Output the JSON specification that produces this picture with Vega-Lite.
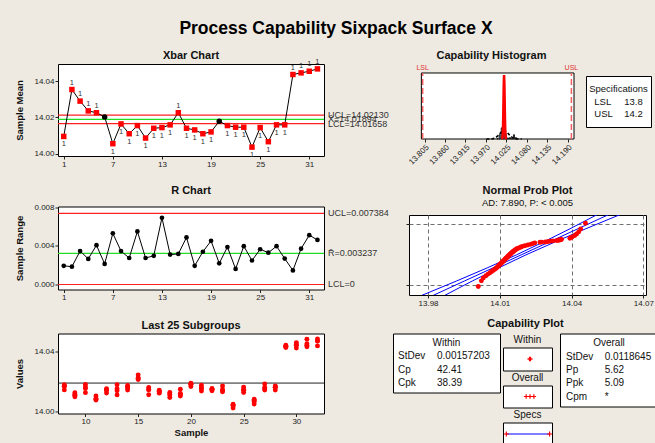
{
  "$schema": "https://vega.github.io/schema/vega-lite/v6.json",
  "background": "#EEEAE1",
  "padding": {"left": 13, "top": 19, "right": 0, "bottom": 0},
  "title": {"text": "Process Capability Sixpack Surface X", "fontSize": 17.5, "fontWeight": "bold", "anchor": "middle", "offset": 12, "color": "#000"},
  "config": {
    "view": {"stroke": "#000", "strokeWidth": 1, "fill": "white"},
    "font": "Liberation Sans",
    "axis": {"domain": false, "grid": false, "labelFontSize": 8, "labelColor": "#222", "labelFont": "Liberation Sans", "tickColor": "#222", "tickSize": 3, "labelPadding": 1, "labelFlush": false, "labelOverlap": false, "titleFontSize": 9.5, "titleFontWeight": "bold", "titleColor": "#111", "titleFont": "Liberation Sans"},
    "title": {"fontSize": 11, "fontWeight": "bold", "font": "Liberation Sans", "color": "#111", "offset": 4, "anchor": "middle"},
    "text": {"font": "Liberation Sans", "color": "#111"}
  },
  "datasets": {
    "sub": [
      {"s":1,"m":14.0095,"r":0.00194,"st":"o","t":"1"},
      {"s":2,"m":14.0354,"r":0.00185,"st":"o","t":"1"},
      {"s":3,"m":14.0290,"r":0.00347,"st":"o","t":"1"},
      {"s":4,"m":14.0236,"r":0.00266,"st":"o","t":"1"},
      {"s":5,"m":14.0226,"r":0.00408,"st":"o","t":"1"},
      {"s":6,"m":14.0203,"r":0.00214,"st":"i","t":""},
      {"s":7,"m":14.0055,"r":0.00531,"st":"o","t":"1"},
      {"s":8,"m":14.0164,"r":0.00347,"st":"o","t":"1"},
      {"s":9,"m":14.0110,"r":0.00275,"st":"o","t":"1"},
      {"s":10,"m":14.0155,"r":0.00551,"st":"o","t":"1"},
      {"s":11,"m":14.0086,"r":0.00275,"st":"o","t":"1"},
      {"s":12,"m":14.0140,"r":0.00298,"st":"o","t":"1"},
      {"s":13,"m":14.0144,"r":0.00693,"st":"o","t":"1"},
      {"s":14,"m":14.0159,"r":0.00311,"st":"o","t":"1"},
      {"s":15,"m":14.0226,"r":0.00317,"st":"o","t":"1"},
      {"s":16,"m":14.0140,"r":0.00489,"st":"o","t":"1"},
      {"s":17,"m":14.0131,"r":0.00194,"st":"o","t":"1"},
      {"s":18,"m":14.0110,"r":0.00340,"st":"o","t":"1"},
      {"s":19,"m":14.0120,"r":0.00453,"st":"o","t":"1"},
      {"s":20,"m":14.0179,"r":0.00220,"st":"i","t":""},
      {"s":21,"m":14.0155,"r":0.00389,"st":"o","t":"1"},
      {"s":22,"m":14.0146,"r":0.00162,"st":"o","t":"1"},
      {"s":23,"m":14.0146,"r":0.00398,"st":"o","t":"1"},
      {"s":24,"m":14.0036,"r":0.00249,"st":"o","t":"1"},
      {"s":25,"m":14.0144,"r":0.00366,"st":"o","t":"1"},
      {"s":26,"m":14.0066,"r":0.00330,"st":"o","t":"1"},
      {"s":27,"m":14.0159,"r":0.00398,"st":"o","t":"1"},
      {"s":28,"m":14.0159,"r":0.00269,"st":"o","t":"1"},
      {"s":29,"m":14.0437,"r":0.00146,"st":"o","t":"1"},
      {"s":30,"m":14.0446,"r":0.00372,"st":"o","t":"1"},
      {"s":31,"m":14.0455,"r":0.00512,"st":"o","t":"1"},
      {"s":32,"m":14.0468,"r":0.00463,"st":"o","t":"1"}
    ],
    "meas": [
      {"s":1,"v":14.00853},{"s":1,"v":14.00931},{"s":1,"v":14.00969},{"s":1,"v":14.01047},
      {"s":2,"v":14.03438},{"s":2,"v":14.03531},{"s":2,"v":14.03568},{"s":2,"v":14.03623},
      {"s":3,"v":14.02761},{"s":3,"v":14.02831},{"s":3,"v":14.02900},{"s":3,"v":14.03108},
      {"s":4,"v":14.02200},{"s":4,"v":14.02387},{"s":4,"v":14.02387},{"s":4,"v":14.02466},
      {"s":5,"v":14.02056},{"s":5,"v":14.02219},{"s":5,"v":14.02301},{"s":5,"v":14.02464},
      {"s":6,"v":14.01912},{"s":6,"v":14.02019},{"s":6,"v":14.02062},{"s":6,"v":14.02126},
      {"s":7,"v":14.00338},{"s":7,"v":14.00444},{"s":7,"v":14.00550},{"s":7,"v":14.00869},
      {"s":8,"v":14.01432},{"s":8,"v":14.01675},{"s":8,"v":14.01675},{"s":8,"v":14.01779},
      {"s":9,"v":14.00963},{"s":9,"v":14.01073},{"s":9,"v":14.01128},{"s":9,"v":14.01238},
      {"s":10,"v":14.01247},{"s":10,"v":14.01522},{"s":10,"v":14.01633},{"s":10,"v":14.01798},
      {"s":11,"v":14.00750},{"s":11,"v":14.00805},{"s":11,"v":14.00860},{"s":11,"v":14.01025},
      {"s":12,"v":14.01221},{"s":12,"v":14.01430},{"s":12,"v":14.01430},{"s":12,"v":14.01519},
      {"s":13,"v":14.01094},{"s":13,"v":14.01371},{"s":13,"v":14.01509},{"s":13,"v":14.01787},
      {"s":14,"v":14.01419},{"s":14,"v":14.01574},{"s":14,"v":14.01637},{"s":14,"v":14.01730},
      {"s":15,"v":14.02133},{"s":15,"v":14.02197},{"s":15,"v":14.02260},{"s":15,"v":14.02450},
      {"s":16,"v":14.01107},{"s":16,"v":14.01449},{"s":16,"v":14.01449},{"s":16,"v":14.01596},
      {"s":17,"v":14.01213},{"s":17,"v":14.01291},{"s":17,"v":14.01329},{"s":17,"v":14.01407},
      {"s":18,"v":14.00913},{"s":18,"v":14.01083},{"s":18,"v":14.01151},{"s":18,"v":14.01253},
      {"s":19,"v":14.01019},{"s":19,"v":14.01109},{"s":19,"v":14.01200},{"s":19,"v":14.01472},
      {"s":20,"v":14.01658},{"s":20,"v":14.01812},{"s":20,"v":14.01812},{"s":20,"v":14.01878},
      {"s":21,"v":14.01356},{"s":21,"v":14.01511},{"s":21,"v":14.01589},{"s":21,"v":14.01745},
      {"s":22,"v":14.01371},{"s":22,"v":14.01452},{"s":22,"v":14.01484},{"s":22,"v":14.01533},
      {"s":23,"v":14.01301},{"s":23,"v":14.01380},{"s":23,"v":14.01460},{"s":23,"v":14.01699},
      {"s":24,"v":14.00211},{"s":24,"v":14.00385},{"s":24,"v":14.00385},{"s":24,"v":14.00460},
      {"s":25,"v":14.01257},{"s":25,"v":14.01403},{"s":25,"v":14.01477},{"s":25,"v":14.01623},
      {"s":26,"v":14.00479},{"s":26,"v":14.00644},{"s":26,"v":14.00710},{"s":26,"v":14.00809},
      {"s":27,"v":14.01431},{"s":27,"v":14.01510},{"s":27,"v":14.01590},{"s":27,"v":14.01829},
      {"s":28,"v":14.01429},{"s":28,"v":14.01617},{"s":28,"v":14.01617},{"s":28,"v":14.01698},
      {"s":29,"v":14.04297},{"s":29,"v":14.04355},{"s":29,"v":14.04385},{"s":29,"v":14.04443},
      {"s":30,"v":14.04255},{"s":30,"v":14.04441},{"s":30,"v":14.04516},{"s":30,"v":14.04627},
      {"s":31,"v":14.04345},{"s":31,"v":14.04448},{"s":31,"v":14.04550},{"s":31,"v":14.04857},
      {"s":32,"v":14.04402},{"s":32,"v":14.04726},{"s":32,"v":14.04726},{"s":32,"v":14.04865}
    ],
    "pp": [
      {"z":-2.418,"v":14.0010},{"z":-1.988,"v":14.0023},{"z":-1.762,"v":14.0031},{"z":-1.601,"v":14.0042},
      {"z":-1.473,"v":14.0051},{"z":-1.366,"v":14.0059},{"z":-1.272,"v":14.0066},{"z":-1.189,"v":14.0072},
      {"z":-1.113,"v":14.0078},{"z":-1.044,"v":14.0083},{"z":-0.978,"v":14.0087},{"z":-0.917,"v":14.0091},
      {"z":-0.859,"v":14.0094},{"z":-0.803,"v":14.0096},{"z":-0.750,"v":14.0100},{"z":-0.699,"v":14.0103},
      {"z":-0.650,"v":14.0105},{"z":-0.602,"v":14.0108},{"z":-0.556,"v":14.0110},{"z":-0.511,"v":14.0113},
      {"z":-0.467,"v":14.0115},{"z":-0.424,"v":14.0118},{"z":-0.381,"v":14.0120},{"z":-0.340,"v":14.0122},
      {"z":-0.298,"v":14.0124},{"z":-0.258,"v":14.0126},{"z":-0.217,"v":14.0129},{"z":-0.177,"v":14.0131},
      {"z":-0.137,"v":14.0133},{"z":-0.098,"v":14.0135},{"z":-0.059,"v":14.0137},{"z":-0.020,"v":14.0139},
      {"z":0.020,"v":14.0142},{"z":0.059,"v":14.0144},{"z":0.098,"v":14.0146},{"z":0.137,"v":14.0148},
      {"z":0.177,"v":14.0151},{"z":0.217,"v":14.0154},{"z":0.258,"v":14.0156},{"z":0.298,"v":14.0159},
      {"z":0.340,"v":14.0162},{"z":0.381,"v":14.0165},{"z":0.424,"v":14.0168},{"z":0.467,"v":14.0171},
      {"z":0.511,"v":14.0177},{"z":0.556,"v":14.0183},{"z":0.602,"v":14.0189},{"z":0.650,"v":14.0195},
      {"z":0.699,"v":14.0205},{"z":0.750,"v":14.0217},{"z":0.803,"v":14.0228},{"z":0.859,"v":14.0237},
      {"z":0.917,"v":14.0246},{"z":0.960,"v":14.0268},{"z":0.978,"v":14.0275},{"z":0.990,"v":14.0290},
      {"z":1.010,"v":14.0300},{"z":1.044,"v":14.0310},{"z":1.070,"v":14.0322},{"z":1.090,"v":14.0338},
      {"z":1.113,"v":14.0345},{"z":1.140,"v":14.0350},{"z":1.160,"v":14.0355},{"z":1.189,"v":14.0358},
      {"z":1.272,"v":14.0393},{"z":1.366,"v":14.0402},{"z":1.473,"v":14.0413},{"z":1.601,"v":14.0421},
      {"z":1.762,"v":14.0430},{"z":1.988,"v":14.0438},{"z":2.418,"v":14.0458}
    ],
    "band": [
      {"z":-3.1,"lo":13.97736,"fit":13.98216,"hi":13.98696},
      {"z":-2,"lo":13.99191,"fit":13.99521,"hi":13.99851},
      {"z":-1,"lo":14.00468,"fit":14.00708,"hi":14.00948},
      {"z":0,"lo":14.01694,"fit":14.01894,"hi":14.02094},
      {"z":1,"lo":14.0284,"fit":14.0308,"hi":14.0332},
      {"z":2,"lo":14.03937,"fit":14.04267,"hi":14.04597},
      {"z":3.1,"lo":14.05092,"fit":14.05572,"hi":14.06052}
    ],
    "overallCurve": [
      {"x":13.97148,"d":0.011},{"x":13.97741,"d":0.074},{"x":13.98335,"d":0.373},{"x":13.98928,"d":1.476},
      {"x":13.99521,"d":4.55},{"x":14.00114,"d":10.92},{"x":14.00708,"d":20.39},{"x":14.01301,"d":29.67},
      {"x":14.01894,"d":33.62},{"x":14.02487,"d":29.67},{"x":14.0308,"d":20.39},{"x":14.03674,"d":10.92},
      {"x":14.04267,"d":4.55},{"x":14.0486,"d":1.476},{"x":14.05453,"d":0.373},{"x":14.06047,"d":0.074},
      {"x":14.0664,"d":0.011}
    ],
    "withinCurve": [
      {"x":14.01265,"d":0.085},{"x":14.01422,"d":2.82},{"x":14.01501,"d":11.14},{"x":14.0158,"d":34.35},
      {"x":14.01658,"d":82.4},{"x":14.01737,"d":153.9},{"x":14.01815,"d":224.0},{"x":14.01894,"d":253.8},
      {"x":14.01973,"d":224.0},{"x":14.02051,"d":153.9},{"x":14.0213,"d":82.4},{"x":14.02208,"d":34.35},
      {"x":14.02287,"d":11.14},{"x":14.02366,"d":2.82},{"x":14.02523,"d":0.085}
    ]
  },
  "spacing": 9.5,
  "vconcat": [
    {
      "concat": [
        {
          "spacing": 15.5,
          "vconcat": [
            {
              "width": 266, "height": 92,
              "title": {"text": "Xbar Chart", "offset": -3},
              "layer": [
                {
                  "data": {"values": [{"k":"UCL","y":14.0213,"lab":"UCL=14.02130"},{"k":"CL","y":14.01894,"lab":"X̄=14.01894"},{"k":"LCL","y":14.01658,"lab":"LCL=14.01658"}]},
                  "layer": [
                    {"mark": {"type": "rule", "strokeWidth": 1.2},
                     "encoding": {"y": {"field": "y", "type": "quantitative"},
                                  "stroke": {"field": "k", "type": "nominal", "scale": {"domain": ["UCL","CL","LCL"], "range": ["#ff2020","#22dd22","#ff2020"]}, "legend": null}}},
                    {"mark": {"type": "text", "align": "left", "dx": 4, "fontSize": 9, "color": "#333"},
                     "encoding": {"x": {"datum": 32.8, "type": "quantitative"}, "y": {"field": "y", "type": "quantitative"}, "text": {"field": "lab"}}}
                  ]
                },
                {
                  "data": {"name": "sub"},
                  "mark": {"type": "line", "color": "#000", "strokeWidth": 1},
                  "encoding": {
                    "x": {"field": "s", "type": "quantitative", "scale": {"domain": [0.3, 32.8], "nice": false, "zero": false}, "axis": {"values": [1,4,7,10,13,16,19,22,25,28,31], "title": null}},
                    "y": {"field": "m", "type": "quantitative", "scale": {"domain": [13.9987, 14.0495], "nice": false, "zero": false}, "axis": {"values": [14, 14.02, 14.04], "format": ".2f", "title": "Sample Mean", "minExtent": 30, "maxExtent": 30, "titlePadding": 4}}
                  }
                },
                {
                  "data": {"name": "sub"},
                  "mark": {"type": "point", "filled": true, "opacity": 1, "size": 30},
                  "encoding": {
                    "x": {"field": "s", "type": "quantitative"},
                    "y": {"field": "m", "type": "quantitative"},
                    "shape": {"field": "st", "type": "nominal", "scale": {"domain": ["o","i"], "range": ["square","circle"]}, "legend": null},
                    "fill": {"field": "st", "type": "nominal", "scale": {"domain": ["o","i"], "range": ["#ff0000","#000000"]}, "legend": null}
                  }
                },
                {
                  "data": {"name": "sub"},
                  "transform": [{"filter": "datum.t == '1' && datum.m > 14.019"}],
                  "mark": {"type": "text", "dy": -7, "fontSize": 7.5, "color": "#333"},
                  "encoding": {"x": {"field": "s", "type": "quantitative"}, "y": {"field": "m", "type": "quantitative"}, "text": {"field": "t"}}
                },
                {
                  "data": {"name": "sub"},
                  "transform": [{"filter": "datum.t == '1' && datum.m < 14.019"}],
                  "mark": {"type": "text", "dy": 8, "fontSize": 7.5, "color": "#333"},
                  "encoding": {"x": {"field": "s", "type": "quantitative"}, "y": {"field": "m", "type": "quantitative"}, "text": {"field": "t"}}
                }
              ]
            },
            {
              "width": 266, "height": 83,
              "title": {"text": "R Chart", "offset": 7},
              "layer": [
                {
                  "data": {"values": [{"k":"UCL","y":0.007384,"lab":"UCL=0.007384"},{"k":"CL","y":0.003237,"lab":"R̄=0.003237"},{"k":"LCL","y":0,"lab":"LCL=0"}]},
                  "layer": [
                    {"mark": {"type": "rule", "strokeWidth": 1.2},
                     "encoding": {"y": {"field": "y", "type": "quantitative"},
                                  "stroke": {"field": "k", "type": "nominal", "scale": {"domain": ["UCL","CL","LCL"], "range": ["#ff2020","#22dd22","#ff2020"]}, "legend": null}}},
                    {"mark": {"type": "text", "align": "left", "dx": 4, "fontSize": 9, "color": "#333"},
                     "encoding": {"x": {"datum": 32.8, "type": "quantitative"}, "y": {"field": "y", "type": "quantitative"}, "text": {"field": "lab"}}}
                  ]
                },
                {
                  "data": {"name": "sub"},
                  "mark": {"type": "line", "color": "#000", "strokeWidth": 1},
                  "encoding": {
                    "x": {"field": "s", "type": "quantitative", "scale": {"domain": [0.3, 32.8], "nice": false, "zero": false}, "axis": {"values": [1,4,7,10,13,16,19,22,25,28,31], "title": null}},
                    "y": {"field": "r", "type": "quantitative", "scale": {"domain": [-0.00052, 0.0081], "nice": false, "zero": false}, "axis": {"values": [0, 0.004, 0.008], "format": ".3f", "title": "Sample Range", "minExtent": 30, "maxExtent": 30, "titlePadding": 4}}
                  }
                },
                {
                  "data": {"name": "sub"},
                  "mark": {"type": "circle", "color": "#000", "opacity": 1, "size": 22},
                  "encoding": {"x": {"field": "s", "type": "quantitative"}, "y": {"field": "r", "type": "quantitative"}}
                }
              ]
            }
          ]
        },
        {
          "spacing": 18,
          "vconcat": [
            {
              "concat": [
                {
                  "width": 165, "height": 75,
                  "view": {"stroke": null, "fill": null},
                  "title": {"text": "Capability Histogram", "offset": 3},
                  "layer": [
                    {
                      "data": {"values": [{}]},
                      "mark": {"type": "rect", "fill": "white", "stroke": "#000", "strokeWidth": 1},
                      "encoding": {
                        "x": {"datum": 13.7965, "type": "quantitative", "scale": {"domain": [13.7632, 14.207], "nice": false, "zero": false},
                              "axis": {"values": [13.805, 13.86, 13.915, 13.97, 14.025, 14.08, 14.135, 14.19], "format": ".3f", "labelAngle": -45, "title": null}},
                        "x2": {"datum": 14.207},
                        "y": {"datum": 0, "type": "quantitative", "scale": {"domain": [0, 297.7]}, "axis": null},
                        "y2": {"datum": 262}
                      }
                    },
                    {
                      "data": {"name": "meas"},
                      "mark": {"type": "bar", "fill": "#8EA9C8", "stroke": "#000", "strokeWidth": 0.8},
                      "encoding": {
                        "x": {"field": "v", "type": "quantitative", "bin": {"step": 0.0055, "anchor": 13.9975}},
                        "y": {"aggregate": "count", "type": "quantitative", "scale": {"domain": [0, 209.1]}, "axis": null}
                      }
                    },
                    {
                      "data": {"name": "overallCurve"},
                      "mark": {"type": "line", "color": "#000", "strokeWidth": 1.6, "strokeDash": [3, 2]},
                      "encoding": {"x": {"field": "x", "type": "quantitative"}, "y": {"field": "d", "type": "quantitative", "scale": {"domain": [0, 297.7]}, "axis": null}}
                    },
                    {
                      "data": {"name": "withinCurve"},
                      "mark": {"type": "line", "color": "#ff0000", "strokeWidth": 2.5},
                      "encoding": {"x": {"field": "x", "type": "quantitative"}, "y": {"field": "d", "type": "quantitative", "scale": {"domain": [0, 297.7]}, "axis": null}}
                    },
                    {
                      "data": {"values": [{"n": "LSL", "x": 13.8}, {"n": "USL", "x": 14.2}]},
                      "layer": [
                        {"mark": {"type": "rule", "color": "#f06060", "strokeWidth": 1.5, "strokeDash": [6, 3]},
                         "encoding": {"x": {"field": "x", "type": "quantitative"}, "y": {"datum": 0, "type": "quantitative", "scale": {"domain": [0, 297.7]}, "axis": null}, "y2": {"datum": 262}}},
                        {"mark": {"type": "text", "color": "#e03030", "fontSize": 7, "baseline": "bottom", "dy": -2},
                         "encoding": {"x": {"field": "x", "type": "quantitative"}, "y": {"datum": 262, "type": "quantitative", "scale": {"domain": [0, 297.7]}, "axis": null}, "text": {"field": "n"}}}
                      ]
                    }
                  ],
                  "resolve": {"scale": {"y": "independent"}}
                },
                {
                  "spacing": 5,
                  "vconcat": [
                    {
                      "width": 65, "height": 1,
                      "view": {"stroke": null, "fill": null},
                      "data": {"values": [{}]},
                      "mark": {"type": "text"},
                      "encoding": {"text": {"value": ""}}
                    },
                    {
                      "width": 65, "height": 51,
                      "data": {"values": [{"k": "Specifications", "v": ""}, {"k": "LSL", "v": "13.8"}, {"k": "USL", "v": "14.2"}]},
                      "layer": [
                        {
                          "transform": [{"filter": "datum.k == 'Specifications'"}],
                          "mark": {"type": "text", "fontSize": 9.5},
                          "encoding": {"text": {"field": "k"}, "y": {"field": "k", "type": "nominal", "scale": {"type": "band", "domain": ["Specifications","LSL","USL"], "paddingInner": 0, "paddingOuter": 0.54}, "axis": null}}
                        },
                        {
                          "transform": [{"filter": "datum.k != 'Specifications'"}],
                          "mark": {"type": "text", "fontSize": 9.5, "align": "left"},
                          "encoding": {"text": {"field": "k"}, "y": {"field": "k", "type": "nominal"},
                                       "x": {"datum": "L", "type": "nominal", "scale": {"type": "point", "domain": ["L","V"], "padding": 0.583, "align": 0.237}, "axis": null}}
                        },
                        {
                          "transform": [{"filter": "datum.k != 'Specifications'"}],
                          "mark": {"type": "text", "fontSize": 9.5, "align": "left"},
                          "encoding": {"text": {"field": "v"}, "y": {"field": "k", "type": "nominal"}, "x": {"datum": "V", "type": "nominal"}}
                        }
                      ]
                    }
                  ]
                }
              ],
              "columns": 2, "align": "none", "spacing": 6
            },
            {
              "width": 237, "height": 80,
              "title": {"text": "Normal Prob Plot", "subtitle": "AD: 7.890, P: < 0.005", "subtitleFontSize": 9.5, "subtitleFont": "Liberation Sans", "subtitleColor": "#111", "subtitlePadding": 2, "offset": 8},
              "layer": [
                {
                  "data": {"name": "band"},
                  "mark": {"type": "line", "color": "#0000ff", "strokeWidth": 1, "clip": true},
                  "encoding": {
                    "x": {"field": "lo", "type": "quantitative", "scale": {"domain": [13.97205, 14.0711], "nice": false, "zero": false},
                          "axis": {"values": [13.98, 13.995, 14.01, 14.025, 14.04, 14.055, 14.07], "labelExpr": "abs(datum.value*100 - round(datum.value*100)) < 0.1 ? format(datum.value, '.2f') : ''", "grid": true, "gridDash": [4, 3], "gridColor": "#6f6f6f", "title": null}},
                    "y": {"field": "z", "type": "quantitative", "scale": {"domain": [-3.07, 3.05], "nice": false, "zero": false},
                          "axis": {"values": [-2.3263, -1.2816, 0, 1.2816, 2.3263], "labels": false, "grid": true, "gridDash": [4, 3], "gridColor": "#6f6f6f", "title": null}},
                    "order": {"field": "z"}
                  }
                },
                {
                  "data": {"name": "band"},
                  "mark": {"type": "line", "color": "#0000ff", "strokeWidth": 1, "clip": true},
                  "encoding": {"x": {"field": "fit", "type": "quantitative"}, "y": {"field": "z", "type": "quantitative"}, "order": {"field": "z"}}
                },
                {
                  "data": {"name": "band"},
                  "mark": {"type": "line", "color": "#0000ff", "strokeWidth": 1, "clip": true},
                  "encoding": {"x": {"field": "hi", "type": "quantitative"}, "y": {"field": "z", "type": "quantitative"}, "order": {"field": "z"}}
                },
                {
                  "data": {"name": "pp"},
                  "mark": {"type": "circle", "color": "#ff0000", "opacity": 1, "size": 24},
                  "encoding": {"x": {"field": "v", "type": "quantitative"}, "y": {"field": "z", "type": "quantitative"}}
                }
              ]
            }
          ]
        }
      ],
      "columns": 2, "align": "none", "spacing": 15
    },
    {
      "concat": [
        {
          "width": 266, "height": 80,
          "title": {"text": "Last 25 Subgroups", "offset": 3},
          "layer": [
            {
              "data": {"values": [{"y": 14.01894}]},
              "mark": {"type": "rule", "color": "#222", "strokeWidth": 1},
              "encoding": {"y": {"field": "y", "type": "quantitative"}}
            },
            {
              "data": {"name": "meas"},
              "transform": [{"filter": "datum.s >= 8"}],
              "mark": {"type": "circle", "color": "#ff0000", "opacity": 1, "size": 24},
              "encoding": {
                "x": {"field": "s", "type": "quantitative", "scale": {"domain": [7.4, 32.62], "nice": false, "zero": false}, "axis": {"values": [10, 15, 20, 25, 30], "title": "Sample", "titlePadding": 2}},
                "y": {"field": "v", "type": "quantitative", "scale": {"domain": [13.9984, 14.0524], "nice": false, "zero": false}, "axis": {"values": [14, 14.02, 14.04], "format": ".2f", "title": "Values", "minExtent": 30, "maxExtent": 30, "titlePadding": 4}}
              }
            }
          ]
        },
        {
          "title": {"text": "Capability Plot", "anchor": "middle", "offset": 4},
          "concat": [
            {
              "width": 107, "height": 59,
              "layer": [
                {
                  "data": {"values": [{"h": "Within"}]},
                  "mark": {"type": "text", "fontSize": 10},
                  "encoding": {"text": {"field": "h"}, "y": {"datum": "Within", "type": "nominal", "scale": {"type": "band", "domain": ["Within","StDev","Cp","Cpk"], "paddingInner": 0, "paddingOuter": 0.25}, "axis": null}}
                },
                {
                  "data": {"values": [{"stat": "StDev", "value": "0.00157203"}, {"stat": "Cp", "value": "42.41"}, {"stat": "Cpk", "value": "38.39"}]},
                  "layer": [
                    {"mark": {"type": "text", "fontSize": 10, "align": "left"},
                     "encoding": {"text": {"field": "stat"}, "y": {"field": "stat", "type": "nominal"},
                                  "x": {"datum": "L", "type": "nominal", "scale": {"type": "point", "domain": ["L","V"], "padding": 0.872, "align": 0.0735}, "axis": null}}},
                    {"mark": {"type": "text", "fontSize": 10, "align": "left"},
                     "encoding": {"text": {"field": "value"}, "y": {"field": "stat", "type": "nominal"}, "x": {"datum": "V", "type": "nominal"}}}
                  ]
                }
              ]
            },
            {
              "concat": [
                {
                  "vconcat": [
                    {"width": 49, "height": 13, "data": {"values": [{"h": "Within"}]}, "mark": {"type": "text", "fontSize": 10}, "encoding": {"text": {"field": "h"}}},
                    {
                      "width": 49, "height": 23,
                      "data": {"values": [{"lo": 14.01422, "mid": 14.01894, "hi": 14.02366}]},
                      "layer": [
                        {"mark": {"type": "rule", "color": "#ff0000", "strokeWidth": 1},
                         "encoding": {"x": {"field": "lo", "type": "quantitative", "scale": {"domain": [13.7695, 14.2222], "nice": false, "zero": false}, "axis": null}, "x2": {"field": "hi"}}},
                        {"mark": {"type": "point", "shape": "M-1,0L1,0M0,-1L0,1", "filled": false, "color": "#ff0000", "strokeWidth": 1.2, "size": 20, "opacity": 1},
                         "encoding": {"x": {"field": "lo", "type": "quantitative"}}},
                        {"mark": {"type": "point", "shape": "M-1,0L1,0M0,-1L0,1", "filled": false, "color": "#ff0000", "strokeWidth": 1.2, "size": 20, "opacity": 1},
                         "encoding": {"x": {"field": "hi", "type": "quantitative"}}}
                      ]
                    },
                    {"width": 49, "height": 13, "data": {"values": [{"h": "Overall"}]}, "mark": {"type": "text", "fontSize": 10}, "encoding": {"text": {"field": "h"}}},
                    {
                      "width": 49, "height": 22,
                      "data": {"values": [{"lo": 13.98335, "mid": 14.01894, "hi": 14.05453}]},
                      "layer": [
                        {"mark": {"type": "rule", "color": "#ff0000", "strokeWidth": 1},
                         "encoding": {"x": {"field": "lo", "type": "quantitative", "scale": {"domain": [13.7695, 14.2222], "nice": false, "zero": false}, "axis": null}, "x2": {"field": "hi"}}},
                        {"mark": {"type": "point", "shape": "M-1,0L1,0M0,-1L0,1", "filled": false, "color": "#ff0000", "strokeWidth": 1.2, "size": 20, "opacity": 1},
                         "encoding": {"x": {"field": "lo", "type": "quantitative"}}},
                        {"mark": {"type": "point", "shape": "M-1,0L1,0M0,-1L0,1", "filled": false, "color": "#ff0000", "strokeWidth": 1.2, "size": 20, "opacity": 1},
                         "encoding": {"x": {"field": "mid", "type": "quantitative"}}},
                        {"mark": {"type": "point", "shape": "M-1,0L1,0M0,-1L0,1", "filled": false, "color": "#ff0000", "strokeWidth": 1.2, "size": 20, "opacity": 1},
                         "encoding": {"x": {"field": "hi", "type": "quantitative"}}}
                      ]
                    },
                    {"width": 49, "height": 13, "data": {"values": [{"h": "Specs"}]}, "mark": {"type": "text", "fontSize": 10}, "encoding": {"text": {"field": "h"}}},
                    {
                      "width": 49, "height": 23,
                      "data": {"values": [{"lo": 13.8, "hi": 14.2}]},
                      "layer": [
                        {"mark": {"type": "rule", "color": "#0000ff", "strokeWidth": 1.2},
                         "encoding": {"x": {"field": "lo", "type": "quantitative", "scale": {"domain": [13.7695, 14.2222], "nice": false, "zero": false}, "axis": null}, "x2": {"field": "hi"}}},
                        {"mark": {"type": "point", "shape": "M-1,0L1,0M0,-1L0,1", "filled": false, "color": "#ff0000", "strokeWidth": 1.2, "size": 25, "opacity": 1},
                         "encoding": {"x": {"field": "lo", "type": "quantitative"}}},
                        {"mark": {"type": "point", "shape": "M-1,0L1,0M0,-1L0,1", "filled": false, "color": "#ff0000", "strokeWidth": 1.2, "size": 25, "opacity": 1},
                         "encoding": {"x": {"field": "hi", "type": "quantitative"}}}
                      ]
                    }
                  ],
                  "spacing": 0
                },
                {
                  "width": 98, "height": 73,
                  "layer": [
                    {
                      "data": {"values": [{"h": "Overall"}]},
                      "mark": {"type": "text", "fontSize": 10},
                      "encoding": {"text": {"field": "h"}, "y": {"datum": "Overall", "type": "nominal", "scale": {"type": "band", "domain": ["Overall","StDev","Pp","Ppk","Cpm"], "paddingInner": 0, "paddingOuter": 0.244}, "axis": null}}
                    },
                    {
                      "data": {"values": [{"stat": "StDev", "value": "0.0118645"}, {"stat": "Pp", "value": "5.62"}, {"stat": "Ppk", "value": "5.09"}, {"stat": "Cpm", "value": "*"}]},
                      "layer": [
                        {"mark": {"type": "text", "fontSize": 10, "align": "left"},
                         "encoding": {"text": {"field": "stat"}, "y": {"field": "stat", "type": "nominal"},
                                      "x": {"datum": "L", "type": "nominal", "scale": {"type": "point", "domain": ["L","V"], "padding": 0.766, "align": 0.101}, "axis": null}}},
                        {"mark": {"type": "text", "fontSize": 10, "align": "left"},
                         "encoding": {"text": {"field": "value"}, "y": {"field": "stat", "type": "nominal"}, "x": {"datum": "V", "type": "nominal"}}}
                      ]
                    }
                  ]
                }
              ],
              "columns": 2, "align": "none", "spacing": 4
            }
          ],
          "columns": 2, "align": "none", "spacing": -1
        }
      ],
      "columns": 2, "align": "none", "spacing": 67
    }
  ]
}
